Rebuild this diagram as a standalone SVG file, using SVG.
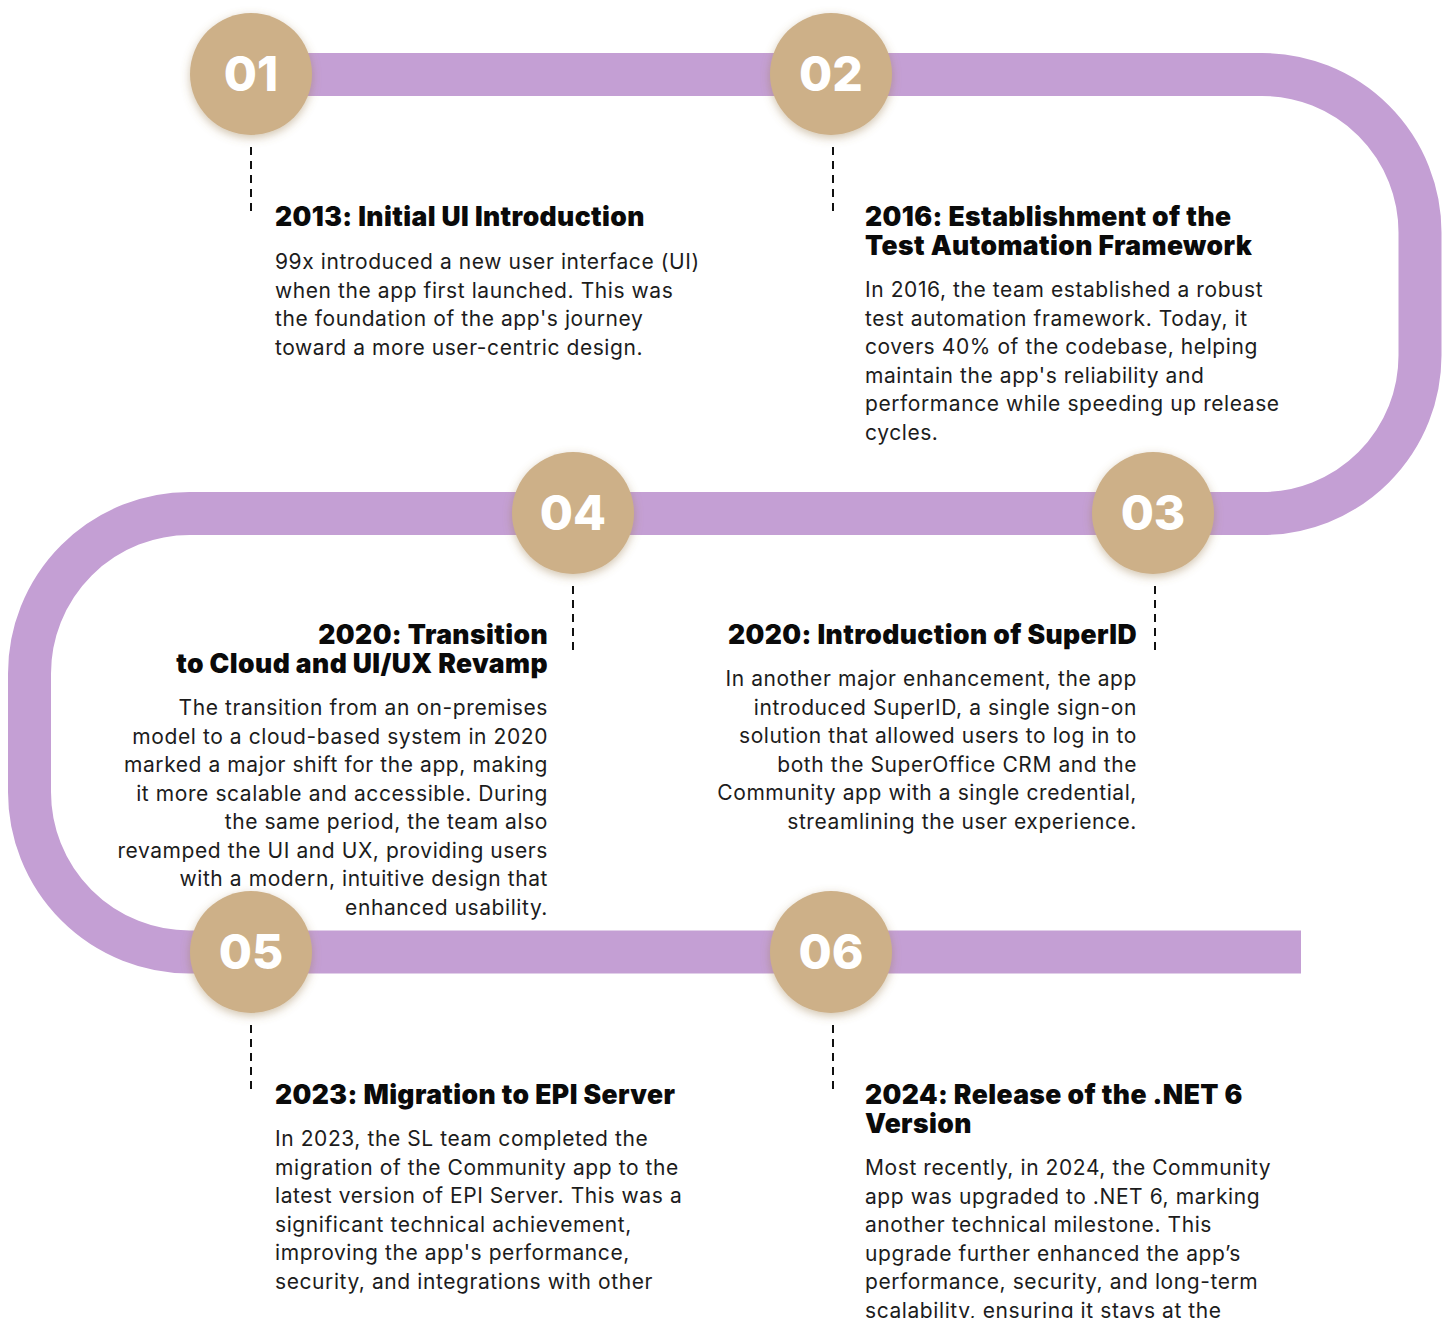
<svg xmlns="http://www.w3.org/2000/svg" width="1450" height="1318" viewBox="0 0 1450 1318">
  <defs>
    <filter id="glow" x="-40%" y="-40%" width="180%" height="180%">
      <feDropShadow dx="0" dy="3" stdDeviation="5" flood-color="#9a7a4a" flood-opacity="0.45"/>
    </filter>
    <style>
      .track { fill: none; stroke: #C49FD4; stroke-width: 43; stroke-linecap: butt; stroke-linejoin: round; }
      .badge { fill: #CDB088; filter: url(#glow); }
      .num { font-family: Inter, "Open Sans", sans-serif; font-weight: 800; font-size: 48px; fill: #ffffff; text-anchor: middle; }
      .tick { stroke: #111111; stroke-width: 2; stroke-dasharray: 8 6; }
      .title { font-family: Inter, "Liberation Sans", sans-serif; font-weight: 900; font-size: 26.5px; fill: #0a0a0a; letter-spacing: 0.4px; }
      .body { font-family: Inter, "Liberation Sans", sans-serif; font-weight: 400; font-size: 21px; fill: #1c1c1c; letter-spacing: 0.58px; }
      .end { text-anchor: end; }
    </style>
  </defs>

  <rect width="1450" height="1318" fill="#ffffff"/>

  <!-- serpentine timeline track -->
  <g id="connectors">
    <path class="track" d="M 251 74.5 H 1262 A 158 158 0 0 1 1420 232.5 V 355.5 A 158 158 0 0 1 1262 513.5 H 190 A 160 160 0 0 0 29.5 673.5 V 792 A 160 160 0 0 0 189.5 952 H 1301"/>
    <line class="tick" x1="251" y1="147" x2="251" y2="213"/>
    <line class="tick" x1="833" y1="147" x2="833" y2="213"/>
    <line class="tick" x1="1155" y1="586" x2="1155" y2="652"/>
    <line class="tick" x1="573" y1="586" x2="573" y2="652"/>
    <line class="tick" x1="251" y1="1025" x2="251" y2="1091"/>
    <line class="tick" x1="833" y1="1025" x2="833" y2="1091"/>
  </g>

  <!-- milestone 01 -->
  <g id="m01">
    <circle class="badge" cx="251" cy="74" r="61"/>
    <text class="num" x="251" y="91">01</text>
    <text class="title" x="275" y="226">2013: Initial UI Introduction</text>
    <text class="body" x="275" y="269">99x introduced a new user interface (UI)</text>
    <text class="body" x="275" y="297.5">when the app first launched. This was</text>
    <text class="body" x="275" y="326">the foundation of the app's journey</text>
    <text class="body" x="275" y="354.5">toward a more user-centric design.</text>
  </g>

  <!-- milestone 02 -->
  <g id="m02">
    <circle class="badge" cx="831" cy="74" r="61"/>
    <text class="num" x="831" y="91">02</text>
    <text class="title" x="865" y="226">2016: Establishment of the</text>
    <text class="title" x="865" y="255">Test Automation Framework</text>
    <text class="body" x="865" y="297">In 2016, the team established a robust</text>
    <text class="body" x="865" y="325.5">test automation framework. Today, it</text>
    <text class="body" x="865" y="354">covers 40% of the codebase, helping</text>
    <text class="body" x="865" y="382.5">maintain the app's reliability and</text>
    <text class="body" x="865" y="411">performance while speeding up release</text>
    <text class="body" x="865" y="439.5">cycles.</text>
  </g>

  <!-- milestone 03 -->
  <g id="m03">
    <circle class="badge" cx="1153" cy="513" r="61"/>
    <text class="num" x="1153" y="530">03</text>
    <text class="title end" x="1137" y="644">2020: Introduction of SuperID</text>
    <text class="body end" x="1137" y="686">In another major enhancement, the app</text>
    <text class="body end" x="1137" y="714.5">introduced SuperID, a single sign-on</text>
    <text class="body end" x="1137" y="743">solution that allowed users to log in to</text>
    <text class="body end" x="1137" y="771.5">both the SuperOffice CRM and the</text>
    <text class="body end" x="1137" y="800">Community app with a single credential,</text>
    <text class="body end" x="1137" y="828.5">streamlining the user experience.</text>
  </g>

  <!-- milestone 04 -->
  <g id="m04">
    <circle class="badge" cx="573" cy="513" r="61"/>
    <text class="num" x="573" y="530">04</text>
    <text class="title end" x="548" y="644">2020: Transition</text>
    <text class="title end" x="548" y="673">to Cloud and UI/UX Revamp</text>
    <text class="body end" x="548" y="715">The transition from an on-premises</text>
    <text class="body end" x="548" y="743.5">model to a cloud-based system in 2020</text>
    <text class="body end" x="548" y="772">marked a major shift for the app, making</text>
    <text class="body end" x="548" y="800.5">it more scalable and accessible. During</text>
    <text class="body end" x="548" y="829">the same period, the team also</text>
    <text class="body end" x="548" y="857.5">revamped the UI and UX, providing users</text>
    <text class="body end" x="548" y="886">with a modern, intuitive design that</text>
    <text class="body end" x="548" y="914.5">enhanced usability.</text>
  </g>

  <!-- milestone 05 -->
  <g id="m05">
    <circle class="badge" cx="251" cy="952" r="61"/>
    <text class="num" x="251" y="969">05</text>
    <text class="title" x="275" y="1104">2023: Migration to EPI Server</text>
    <text class="body" x="275" y="1146">In 2023, the SL team completed the</text>
    <text class="body" x="275" y="1174.5">migration of the Community app to the</text>
    <text class="body" x="275" y="1203">latest version of EPI Server. This was a</text>
    <text class="body" x="275" y="1231.5">significant technical achievement,</text>
    <text class="body" x="275" y="1260">improving the app's performance,</text>
    <text class="body" x="275" y="1288.5">security, and integrations with other</text>
  </g>

  <!-- milestone 06 -->
  <g id="m06">
    <circle class="badge" cx="831" cy="952" r="61"/>
    <text class="num" x="831" y="969">06</text>
    <text class="title" x="865" y="1104">2024: Release of the .NET 6</text>
    <text class="title" x="865" y="1133">Version</text>
    <text class="body" x="865" y="1175">Most recently, in 2024, the Community</text>
    <text class="body" x="865" y="1203.5">app was upgraded to .NET 6, marking</text>
    <text class="body" x="865" y="1232">another technical milestone. This</text>
    <text class="body" x="865" y="1260.5">upgrade further enhanced the app’s</text>
    <text class="body" x="865" y="1289">performance, security, and long-term</text>
    <text class="body" x="865" y="1317.5">scalability, ensuring it stays at the</text>
  </g>
</svg>
